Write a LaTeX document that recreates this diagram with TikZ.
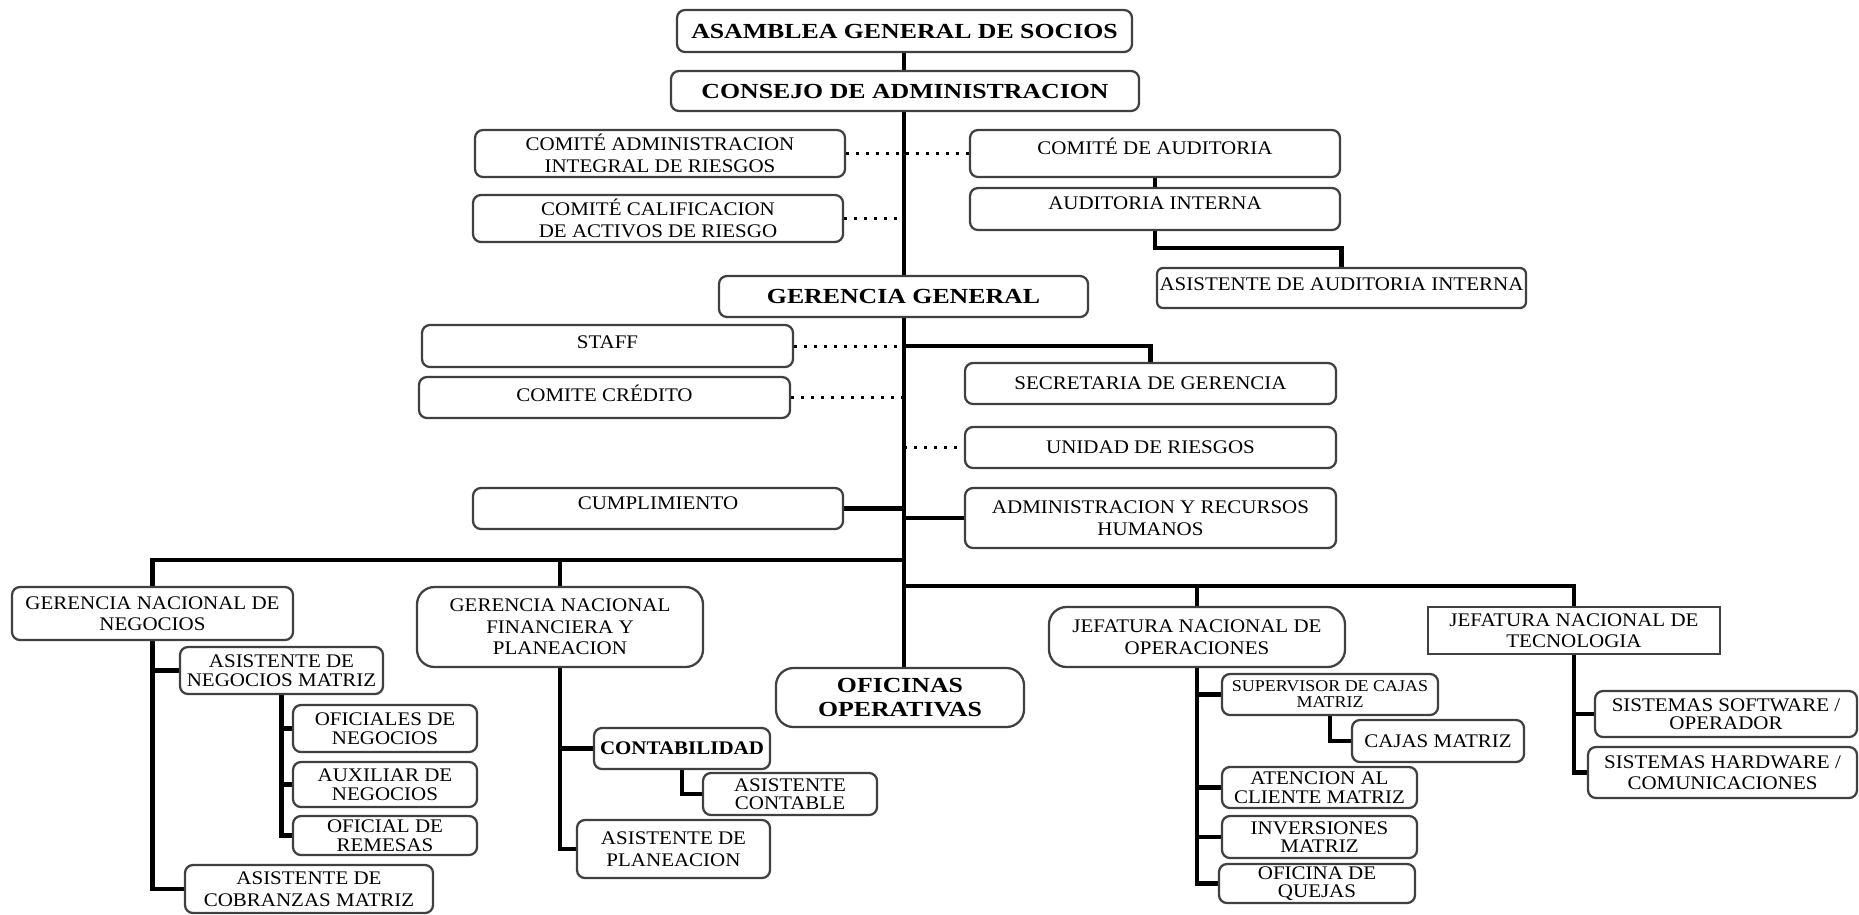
\documentclass[tikz,border=0pt]{standalone}
\usepackage{fontspec}
\setmainfont[FakeStretch=1.09]{Liberation Serif}
\newfontfamily\headfont[FakeStretch=1.2]{Liberation Serif}
\usetikzlibrary{fit,backgrounds}

\tikzset{
  box/.style={draw=black!75, line width=0.9pt, fill=white, rounded corners=3.2pt, inner sep=0pt},
  biground/.style={rounded corners=7pt},
  txt/.style={align=center, inner sep=0pt, font=\fontsize{7.7pt}{8.6pt}\selectfont},
  tight/.style={align=center, inner sep=0pt, font=\fontsize{7.7pt}{7.4pt}\selectfont},
  small/.style={align=center, inner sep=0pt, font=\fontsize{6.6pt}{6.4pt}\selectfont},
  boldtxt/.style={align=center, inner sep=0pt, font=\bfseries\fontsize{7.7pt}{8.6pt}\selectfont},
  head/.style={align=center, inner sep=0pt, font=\headfont\bfseries\fontsize{8.6pt}{9.6pt}\selectfont},
  conn/.style={line width=1.8pt, draw=black},
  link/.style={line width=1.2pt, draw=black, dash pattern=on 1.2pt off 2.8pt},
}

% [box options]{name}{top left}{bottom right}{text options}{text}
\newcommand\orgbox[6][]{%
  \node[box,#1,fit={(#3) (#4)}] (#2) {};
  \node[#5] (#2-t) at (#2.center) {#6};}

\begin{document}
\begin{tikzpicture}[x=0.4pt,y=-0.4pt]
\useasboundingbox (0,0) rectangle (1859,914);

% top of the chart
\orgbox{asam}{677,10}{1132,52}{head}{ASAMBLEA GENERAL DE SOCIOS}
\orgbox{cons}{671,71}{1139,111}{head}{CONSEJO DE ADMINISTRACION}
\orgbox{cair}{475,130}{845,177}{txt}{COMITÉ ADMINISTRACION\\INTEGRAL DE RIESGOS}
\orgbox{caud}{970,130}{1340,177}{txt,yshift=2.8pt}{COMITÉ DE AUDITORIA}
\orgbox{ccal}{473,195}{843,242}{txt}{COMITÉ CALIFICACION\\DE ACTIVOS DE RIESGO}
\orgbox{audi}{970,188}{1340,230}{txt,yshift=2.4pt}{AUDITORIA INTERNA}
\orgbox[rounded corners=2.4pt]{aaud}{1157,268}{1526,308}{txt,yshift=1.6pt}{ASISTENTE DE AUDITORIA INTERNA}
\orgbox{gg}{719,276}{1088,317}{head}{GERENCIA GENERAL}

% staff level
\orgbox{staff}{422,325}{793,367}{txt,yshift=1.6pt}{STAFF}
\orgbox{cred}{419,377}{790,418}{txt,yshift=1.6pt}{COMITE CRÉDITO}
\orgbox{secr}{965,363}{1336,404}{txt}{SECRETARIA DE GERENCIA}
\orgbox{unid}{965,427}{1336,468}{txt}{UNIDAD DE RIESGOS}
\orgbox{cump}{473,488}{843,529}{txt,yshift=2pt}{CUMPLIMIENTO}
\orgbox{admh}{965,488}{1336,548}{txt}{ADMINISTRACION Y RECURSOS\\HUMANOS}

% business
\orgbox{gnn}{12,587}{293,640}{txt}{GERENCIA NACIONAL DE\\NEGOCIOS}
\orgbox{anm}{180,647}{383,694}{tight}{ASISTENTE DE\\NEGOCIOS MATRIZ}
\orgbox{ofn}{293,705}{477,752}{tight}{OFICIALES DE\\NEGOCIOS}
\orgbox{aux}{293,762}{477,807}{tight}{AUXILIAR DE\\NEGOCIOS}
\orgbox{rem}{293,816}{477,855}{tight}{OFICIAL DE\\REMESAS}
\orgbox{cob}{185,865}{433,913}{txt}{ASISTENTE DE\\COBRANZAS MATRIZ}

% finance
\orgbox[biground]{gnf}{417,587}{703,667}{txt}{GERENCIA NACIONAL\\FINANCIERA Y\\PLANEACION}
\orgbox{cont}{594,728}{770,769}{boldtxt}{CONTABILIDAD}
\orgbox{acon}{703,773}{877,815}{tight}{ASISTENTE\\CONTABLE}
\orgbox{apla}{577,820}{770,878}{txt}{ASISTENTE DE\\PLANEACION}
\orgbox[biground]{ofop}{776,668}{1024,727}{head}{OFICINAS\\OPERATIVAS}

% operations
\orgbox[biground]{jno}{1049,607}{1345,667}{txt}{JEFATURA NACIONAL DE\\OPERACIONES}
\orgbox{sup}{1222,674}{1438,715}{small}{SUPERVISOR DE CAJAS\\MATRIZ}
\orgbox{caja}{1352,720}{1524,762}{txt}{CAJAS MATRIZ}
\orgbox{aten}{1222,767}{1417,808}{tight}{ATENCION AL\\CLIENTE MATRIZ}
\orgbox{inve}{1222,816}{1417,858}{tight}{INVERSIONES\\MATRIZ}
\orgbox{quej}{1219,864}{1415,903}{tight}{OFICINA DE\\QUEJAS}

% technology
\orgbox[sharp corners]{jnt}{1428,607}{1720,654}{txt}{JEFATURA NACIONAL DE\\TECNOLOGIA}
\orgbox{ssw}{1595,691}{1857,737}{tight}{SISTEMAS SOFTWARE /\\OPERADOR}
\orgbox{shw}{1588,747}{1857,798}{txt}{SISTEMAS HARDWARE /\\COMUNICACIONES}

% spine and buses
\coordinate (sp) at (904,0);
\coordinate (busL) at (904,560);
\coordinate (busR) at (904,586);

\begin{pgfonlayer}{background}
\fill[white] (0,0) rectangle (1859,914);

\draw[conn] (sp |- asam.south) -- (sp |- cons.north);
\draw[conn] (sp |- cons.south) -- (sp |- gg.north);
\draw[conn] (sp |- gg.south) -- (sp |- ofop.north);

% advisory links
\draw[link] (cair.east) -- (caud.west);
\draw[link] (ccal.east) -- (sp |- ccal.east);
\draw[link] (staff.east) -- (sp |- staff.east);
\draw[link] (cred.east) -- (sp |- cred.east);
\draw[link] (sp |- unid.west) -- (unid.west);

% direct reports
\draw[conn] (cump.east) -- (sp |- cump.east);
\draw[conn] (sp |- admh.west) -- (admh.west);
\draw[conn] (sp |- staff.east) -| (secr.north);
\draw[conn] (caud.south) -- (audi.north);
\draw[conn] (audi.south) -- ++(0,17) -| (aaud.north);

% national managements
\draw[conn] (gnn.north) |- (busL);
\draw[conn] (gnf.north) -- (gnf.north |- busL);
\draw[conn] (busR) -| (jnt.north);
\draw[conn] (jno.north) -- (jno.north |- busR);

% business branch
\draw[conn] (gnn.south) |- (cob.west);
\draw[conn] (gnn.south |- anm.west) -- (anm.west);
\draw[conn] (anm.south) |- (rem.west);
\draw[conn] (anm.south |- ofn.west) -- (ofn.west);
\draw[conn] (anm.south |- aux.west) -- (aux.west);

% finance branch
\draw[conn] (gnf.south) |- (apla.west);
\draw[conn] (gnf.south |- cont.west) -- (cont.west);
\draw[conn] (cont.south) |- (acon.west);

% operations branch
\draw[conn] (jno.south) |- (quej.west);
\draw[conn] (jno.south |- sup.west) -- (sup.west);
\draw[conn] (jno.south |- aten.west) -- (aten.west);
\draw[conn] (jno.south |- inve.west) -- (inve.west);
\draw[conn] (sup.south) |- (caja.west);

% technology branch
\draw[conn] (jnt.south) |- (shw.west);
\draw[conn] (jnt.south |- ssw.west) -- (ssw.west);
\end{pgfonlayer}
\end{tikzpicture}
\end{document}
